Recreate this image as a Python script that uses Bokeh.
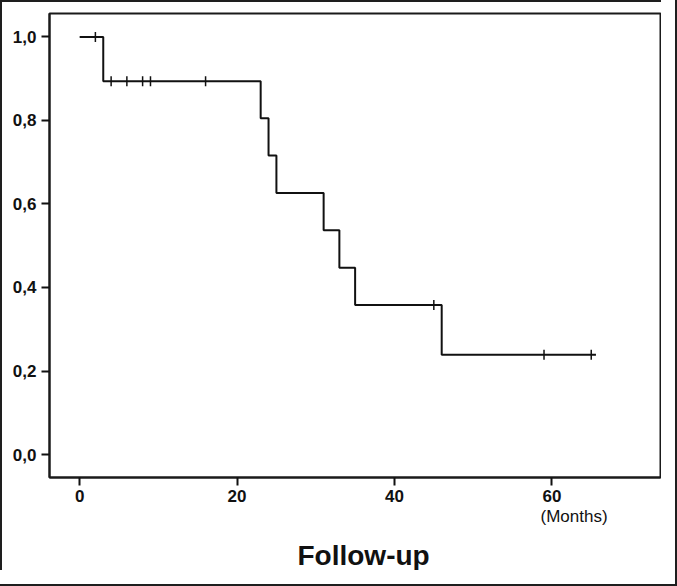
import numpy as np
from bokeh.plotting import figure
from bokeh.models import Range1d, FixedTicker, Title
from bokeh.embed import file_html
from bokeh.resources import INLINE

# Kaplan-Meier curve
event_times = [0, 3, 23, 24, 25, 31, 33, 35, 46]
survival = [1.0, 0.894, 0.805, 0.716, 0.626, 0.537, 0.447, 0.358, 0.239]
last_followup = 65.6
censor_times = [2, 4, 6, 8, 9, 16, 45, 59, 65]

x_ticks = [0, 20, 40, 60]
y_ticks = [0.0, 0.2, 0.4, 0.6, 0.8, 1.0]
y_tick_labels = ["0,0", "0,2", "0,4", "0,6", "0,8", "1,0"]
x_unit_label = "(Months)"
x_title = "Follow-up"

step_x = event_times + [last_followup]
step_y = survival + [survival[-1]]
idx = np.searchsorted(np.array(event_times), np.array(censor_times), side="right") - 1
censor_y = [survival[i] for i in idx]

FONT = "Liberation Sans"
INK = "#111111"

p = figure(width=661, height=570, output_backend="svg", toolbar_location=None,
           x_range=Range1d(-3.83, 73.8), y_range=Range1d(-0.055, 1.056),
           min_border_left=47, min_border_right=3, min_border_top=11, min_border_bottom=10)
p.styles = {"border-left": "2px solid #1e1e1e", "border-top": "2px solid #1e1e1e",
            "outline": "2px solid #1e1e1e", "outline-offset": "14px"}
p.grid.visible = False
p.outline_line_color = "#1a1a1a"
p.outline_line_width = 2
p.background_fill_color = "white"
p.border_fill_color = "white"

p.step(step_x, step_y, mode="after", line_color=INK, line_width=2)
p.scatter(censor_times, censor_y, marker="dash", angle=np.pi / 2, size=10,
          line_color=INK, line_width=1.5)

for ax in (p.xaxis[0], p.yaxis[0]):
    ax.axis_line_color = "#1a1a1a"
    ax.axis_line_width = 2
    ax.major_tick_line_color = INK
    ax.major_tick_line_width = 2
    ax.major_tick_out = 8
    ax.major_tick_in = 0
    ax.minor_tick_line_color = None
    ax.major_label_text_font = FONT
    ax.major_label_text_font_style = "bold"
    ax.major_label_text_font_size = "17px"
    ax.major_label_text_color = INK

p.xaxis.ticker = FixedTicker(ticks=x_ticks)
p.xaxis.major_label_standoff = 4
p.yaxis.ticker = FixedTicker(ticks=y_ticks)
p.yaxis.major_label_standoff = 5
p.yaxis.major_label_overrides = {t: s for t, s in zip(y_ticks, y_tick_labels)}

p.add_layout(Title(text=x_unit_label, align="left", offset=491, standoff=1,
                   padding=(0, 0, 0, 9),
                   text_font=FONT, text_font_style="normal", text_font_size="17px",
                   text_color=INK), "below")
p.add_layout(Title(text=x_title, align="left", offset=248, standoff=4,
                   text_font=FONT, text_font_style="bold", text_font_size="28px",
                   text_color=INK), "below")

open("out.html", "w").write(file_html(p, INLINE))
